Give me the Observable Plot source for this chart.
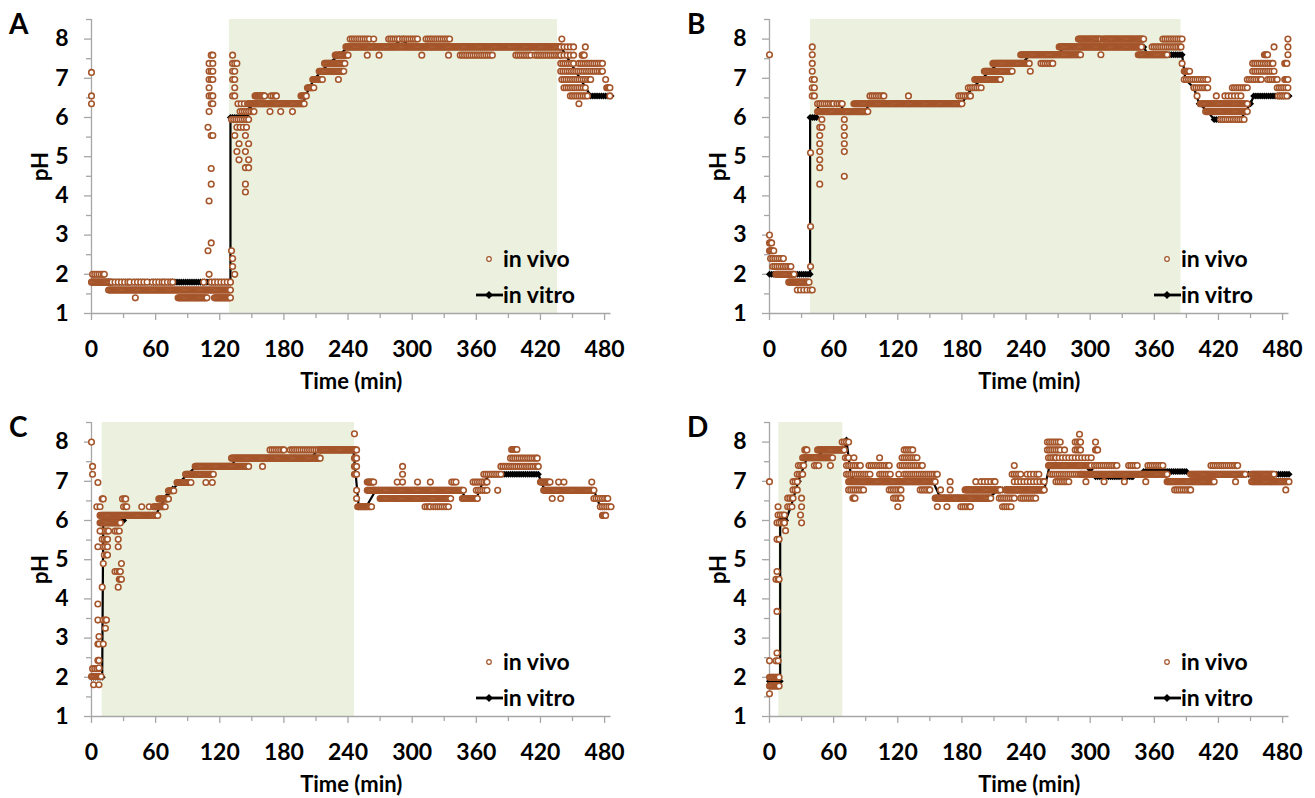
<!DOCTYPE html>
<html><head><meta charset="utf-8">
<script src="https://cdn.jsdelivr.net/npm/d3@7"></script>
<script src="https://cdn.jsdelivr.net/npm/@observablehq/plot@0.6"></script>
<style>
body{margin:0;background:#fff;}
#root{position:relative;width:1315px;height:798px;font-family:Lato,"Open Sans",sans-serif;font-weight:bold;}
.panel{position:absolute;width:637px;height:400px;}
.panel svg{position:absolute;left:0;top:0;overflow:visible;}
</style></head>
<body><div id="root"></div>
<script>
// ---------- DATA (time in min, pH) ----------
const xMajorTicks = [0,60,120,180,240,300,360,420,480];
const xMinorTicks = [30,90,150,210,270,330,390,450];
const yMajorTicks = [1,2,3,4,5,6,7,8];
const yMinorTicks = [1.5,2.5,3.5,4.5,5.5,6.5,7.5,8.5];
const panelLetters = ["A","B","C","D"];
const legendLabels = ["in vivo","in vitro"];
const xLabel = "Time (min)";
const yLabel = "pH";

// shaded intervals [start, end]
const shadeA = [129, 436];
const shadeB = [38.4, 385];
const shadeC = [10, 246];
const shadeD = [8.7, 68.6];

// in vivo: runs [t0, t1, pH, sampling step (min, default 1)]
const vivoRunsA = [
[0,0,7.15],[0,0,6.55],[0,0,6.35],
[1,12,2.0,2],[0,18,1.8],[16,130,1.6],
[19,36,1.8,3],[40,52,1.8,3],[57,68,1.8,3],[71,76,1.8,3],[105,105,1.8],[112,130,1.8,3],
[41,41,1.4],[81,108,1.4],[115,130,1.4],
[131,147,5.95,2],[139,152,6.15,2],[137,147,6.35,3],[136,145,5.75,3],
[148,199,6.35],[153,162,6.55],[168,173,6.55,2],[167,167,6.15],[177,177,6.15],[188,188,6.15],
[196,201,6.55],[202,208,6.76],[207,216,6.97],[213,236,7.18],[218,237,7.38],[228,240,7.59],[231,231,6.97],
[238,439,7.8],
[242,260,8.0,2],[264,264,8.0],[278,288,8.0,2],[291,305,8.0,2],[313,335,8.0,2],
[258,258,7.59],[269,269,7.59],[309,309,7.59],[334,334,7.59],[345,375,7.59,2],[397,411,7.59,2],[415,439,7.59,2],
[440,440,8.0],[439,451,7.8,3],[462,462,7.8],[439,451,7.59,3],[459,461,7.59],[439,451,7.38,2],[456,478,7.38,2],
[439,478,7.18,2],[440,467,6.97,2],[481,481,6.97],[442,462,6.76,2],[482,485,6.76],[448,464,6.55,2],[485,485,6.55],[456,456,6.35]
];
// in vivo: single columns [t, pH, pH, ...]
const vivoColsA = [
[109,5.75,2.6],[110,7.38,7.18,6.97,6.76,6.55,6.15,3.87,2.0],[112,7.59,7.18,6.97,6.55,6.35,5.54,4.7,4.3,2.8],
[113.5,7.59,7.38,7.18,6.97,6.55,6.35,5.54],
[131,2.6],[132,7.59,7.38,7.18,6.97,6.55,2.4,2.2],[134,7.38,7.18,6.97,6.76,6.55,5.54,2.0],[136,7.38,5.13],
[138,5.33,4.92],[144,5.54,5.13,4.72,4.3,4.1],[147,5.33,4.92,4.72]
];
// in vitro: runs [t0, t1, pH] (sampled every 2 min)
const vitroRunsA = [[0,130,1.8],[130,146,6.0],[148,148,6.2],[150,198,6.35],[200,200,6.55],[208,208,6.97],
[222,222,7.38],[232,232,7.6],[240,284,7.8],[288,292,8.0],[296,439,7.8],[467,486,6.55]];

const vivoRunsB = [
[0,0,7.6],[0,0,3.0],[0,2,2.8],[0,4,2.6],[1,13,2.4,2],[3,20,2.2,2],[6,23,2.0],[18,37,1.8],[26,40,1.6,3],
[45,92,6.15],[45,60,6.35,2],[63,68,6.35,2],[79,180,6.35],[94,107,6.55,2],[130,130,6.55],
[177,188,6.55,2],[186,198,6.76,2],[192,216,6.97],
[201,227,7.18],[209,243,7.38],[244,244,7.18],[235,291,7.6],[254,265,7.38,2],[271,348,7.8],[289,310,8.0],
[312,350,8.0],[310,310,7.6],[345,372,7.6],[358,385,7.8,2],[368,386,8.0,2],
[386,386,7.38],[388,393,7.18],[388,410,6.97,2],[397,410,6.76,2],[400,400,6.55],[403,447,6.35],[408,447,6.15],
[422,444,5.95,2],[418,418,6.55],[426,441,6.55,3],[433,447,6.76,2],[447,460,6.97,2],[466,475,6.97,2],
[452,471,7.38,2],[452,472,7.18,2],[463,466,7.6],[472,472,7.8],[475,485,6.76,2],[476,484,6.55,2],
[482,485,6.97],[482,484,7.38],[485,485,7.6],[485,485,7.8],[485,485,8.0]
];
const vivoColsB = [[38.4,2.2,3.22,5.1],[40,7.8,7.6,7.38,7.18,6.97,6.76,6.55],[42,6.97,6.76,6.55],
[47,5.75,5.54,5.33,5.13,4.92,4.72,4.3],[49,5.95,5.75],[70,5.95,5.75,5.54,5.33,5.13,4.5]];
const vitroRunsB = [[0,38,2.0],[38,44,6.0],[46,66,6.35],[70,90,6.15],[93,180,6.35],[184,184,6.55],[190,190,6.76],
[198,198,6.97],[206,206,7.18],[214,236,7.38],[244,270,7.6],[275,350,7.8],[354,386,7.6],[389,389,6.97],
[397,397,6.76],[402,402,6.35],[410,410,6.15],[416,441,5.95],[445,445,6.15],[450,450,6.35],[453,486,6.55]];

const vivoRunsC = [
[0,0,8.0],[1,1,7.38],[1,1,7.18],[6,6,6.97],[5,5,6.35],[8,8,6.35],[10,11,6.55],
[0,9,2.02],[1,7,2.22,2],[2,2,1.81],[7,7,1.81],
[8,62,6.13],[8,27,5.94],[9,16,5.73,2],[22,26,5.73,2],[10,15,5.52,2],[11,15,5.33,2],[12,15,5.12,2],[22,27,4.7,2],[26,28,4.5],
[29,32,6.55,2],[30,33,6.35,2],[47,47,6.35],[54,54,6.35],[58,69,6.35],[63,72,6.55],[72,77,6.76],[80,93,6.97],
[88,114,7.18],[97,147,7.38],[107,107,6.97],[113,113,6.97],
[131,214,7.59],[160,160,7.38],[167,180,7.8,2],[186,214,7.8,2],[214,245,7.8],
[246,248,7.8],[246,248,7.59],[246,248,7.38],[246,248,7.18],[246,246,8.21],[248,248,6.77],[248,248,6.56],
[249,262,6.35],[258,264,6.98],[258,264,6.77],[264,348,6.77],[270,336,6.56],[312,317,6.35,2],[320,334,6.35,2],
[286,286,6.98],[291,291,6.98],[305,305,6.98],[317,317,6.98],[337,341,6.98,2],[291,291,7.18],[291,291,7.38],
[347,361,6.56],[357,370,6.98,2],[360,370,6.77,2],[367,383,7.18,2],[380,380,6.77],[383,418,7.38,2],[392,417,7.59,2],[393,398,7.81],
[420,429,6.98],[423,470,6.77],[431,431,6.56],[439,439,6.56],[437,437,6.98],[442,442,6.98],[468,468,6.98],
[470,483,6.56,2],[476,486,6.35,2],[478,481,6.13]
];
const vivoColsC = [[6,5.33,3.87,3.46,2.85,2.43],[7,3.04,2.85,2.43,2.24],[8,5.73],[10,4.3],[11,4.9,3.46,2.85],
[13,3.46,3.25],[14,3.46],[25,5.52,5.33,4.3],[28,4.9]];
const vitroRunsC = [[0,10,2.0],[11,30,6.0],[33,60,6.13],[64,64,6.35],[70,70,6.6],[76,76,6.8],[82,82,6.97],[90,90,7.18],
[98,131,7.38],[135,205,7.59],[212,245,7.8],[250,257,6.35],[266,346,6.77],[350,360,6.56],[366,366,6.98],
[374,418,7.18],[424,470,6.77],[476,486,6.35]];

const vivoRunsD = [
[0,0,6.99],[0,9,2.0],[0,9,1.78],[0,0,1.58],[0,0,2.42],[6,6,2.42],
[6,9,4.5,2],[7,9,5.52,2],[7,14,5.94,2],[8,14,6.14,2],[8,8,6.35],
[17,21,6.35,2],[17,22,6.57,2],[15,15,5.74],[22,26,6.78,2],[22,26,6.99,2],[26,31,7.18,2],[30,30,6.57],[30,30,6.35],
[29,29,6.14],[30,30,5.94],[27,32,7.4,2],[31,59,7.6],[33,35,7.8],[42,46,7.4,2],[57,57,7.4],[45,70,7.8],[68,74,8.0,2],
[71,74,7.6,2],[72,85,7.4,2],[72,94,7.18,2],[74,155,6.99],[74,88,6.78,2],[78,80,6.57],[79,79,7.6],[93,112,7.4,2],
[103,113,7.18,2],[103,103,7.6],[112,123,6.78,2],[116,123,6.57,2],[120,120,6.35],[121,121,7.18],[122,143,7.4,2],
[124,138,7.6,2],[126,134,7.8,2],[126,157,7.18,2],[141,150,6.78,2],
[155,207,6.57],[157,157,6.35],[166,166,6.35],[179,188,6.35,2],[160,160,6.78],[169,169,6.78],[183,216,6.78],
[169,169,6.99],[193,193,6.99],
[198,211,6.99,3],[221,257,6.78],[229,257,6.99,3],[215,229,6.57,2],[235,249,6.57,2],[218,226,6.35,2],[227,235,7.18,2],
[241,252,7.18,3],[229,229,7.4],
[260,272,8.0,2],[260,272,7.8,2],[261,268,7.6,2],[261,301,7.4],[263,291,7.18,2],[290,290,8.2],[286,291,8.0,2],
[305,305,8.0],[276,276,7.8],[286,291,7.8,2],[305,307,7.8],[268,301,7.6,3],[268,280,6.99,2],[296,296,6.99],
[304,325,7.4,2],[336,344,7.4,2],[354,368,7.4,2],[291,372,7.18],[313,313,6.99],[332,332,6.99],[352,352,6.99],
[372,416,6.99],[379,394,6.78,2],[394,445,7.18],[413,438,7.4,2],[436,436,6.99],[451,472,7.18],[451,486,6.99],[483,483,6.78]
];
const vivoColsD = [[7,2.62,3.68,4.7],[8,2.42],[14,5.94]];
const vitroRunsD = [[0,10,1.9],[10,15,6.0],[20,20,6.35],[27,27,7.0],[35,45,7.6],[50,70,7.8],[72,72,8.05],[76,76,7.18],
[80,153,6.99],[160,205,6.57],[214,257,6.78],[262,292,7.4],[300,300,7.3],[305,340,7.12],[350,390,7.25],[400,486,7.18]];

// ---------- helpers ----------
function expandRuns(runs, defStep) {
  const out = [];
  for (const [t0, t1, p, s] of runs) {
    const st = s ?? defStep;
    let last = null;
    for (let t = t0; t <= t1 + 1e-9; t += st) { out.push({t, p}); last = t; }
    if (last === null || Math.abs(last - t1) > 1e-9) out.push({t: t1, p});
  }
  return out;
}
function expandCols(cols) {
  const out = [];
  for (const [t, ...ps] of cols) for (const p of ps) out.push({t, p});
  return out;
}

const panels = [
  {letter: panelLetters[0], shade: shadeA, vivo: expandRuns(vivoRunsA,1).concat(expandCols(vivoColsA)), vitro: expandRuns(vitroRunsA,2), left: 0, top: 0},
  {letter: panelLetters[1], shade: shadeB, vivo: expandRuns(vivoRunsB,1).concat(expandCols(vivoColsB)), vitro: expandRuns(vitroRunsB,2), left: 678, top: 0},
  {letter: panelLetters[2], shade: shadeC, vivo: expandRuns(vivoRunsC,1).concat(expandCols(vivoColsC)), vitro: expandRuns(vitroRunsC,2), left: 0, top: 403},
  {letter: panelLetters[3], shade: shadeD, vivo: expandRuns(vivoRunsD,1).concat(expandCols(vivoColsD)), vitro: expandRuns(vitroRunsD,2), left: 678, top: 403}
];

const W = 637, H = 400, ML = 91, MR = 26.5, MT = 19, MB = 87;
const AXIS = "#a6a6a6", VIVO = "#a5552a", SHADE = "#ebf1de";
const FONT = "Lato, 'Open Sans', sans-serif";
const hasAxis = typeof Plot.axisX === "function";
const root = document.getElementById("root");

for (const pnl of panels) {
  const div = document.createElement("div");
  div.className = "panel";
  div.style.left = pnl.left + "px";
  div.style.top = pnl.top + "px";
  root.appendChild(div);

  const marks = [
    Plot.rect([pnl.shade], {x1: d => d[0], x2: d => d[1], fill: SHADE}),
    Plot.ruleX([0], {stroke: AXIS, strokeWidth: 1.3}),
    Plot.ruleY([1], {stroke: AXIS, strokeWidth: 1.3})
  ];
  if (hasAxis) {
    marks.push(
      Plot.axisX({ticks: xMajorTicks, tickSize: 7, tickPadding: 20, tickFormat: d => String(d), stroke: AXIS, strokeWidth: 1.3, label: null, fontSize: 23}),
      Plot.axisX({ticks: xMinorTicks, tickSize: 5, tickPadding: 0, tickFormat: () => "", stroke: AXIS, strokeWidth: 1.3, label: null}),
      Plot.axisY({ticks: yMajorTicks, tickSize: 7, tickPadding: 16, tickFormat: d => String(d), stroke: AXIS, strokeWidth: 1.3, label: null, fontSize: 23}),
      Plot.axisY({ticks: yMinorTicks, tickSize: 5, tickPadding: 0, tickFormat: () => "", stroke: AXIS, strokeWidth: 1.3, label: null})
    );
  }
  marks.push(
    Plot.line(pnl.vitro, {x: "t", y: "p", stroke: "black", strokeWidth: 2.2}),
    Plot.dot(pnl.vitro, {x: "t", y: "p", symbol: "diamond2", r: 3.2, fill: "black", stroke: "none"}),
    Plot.dot(pnl.vivo, {x: "t", y: "p", r: 2.8, stroke: VIVO, fill: "white", strokeWidth: 1.55}),
    Plot.text([xLabel], {frameAnchor: "bottom", lineAnchor: "middle", dy: 68, text: d => d, fontSize: 22, fontWeight: "bold", fill: "black"}),
    Plot.text([yLabel], {frameAnchor: "left", textAnchor: "middle", lineAnchor: "middle", dx: -51, rotate: -90, text: d => d, fontSize: 22, fontWeight: "bold", fill: "black"})
  );

  const chart = Plot.plot({
    width: W, height: H,
    marginLeft: ML, marginRight: MR, marginTop: MT, marginBottom: MB,
    x: hasAxis ? {domain: [0, 486], axis: null}
               : {domain: [0, 486], ticks: xMajorTicks, tickSize: 7, tickPadding: 20, tickFormat: d => String(d), label: null},
    y: hasAxis ? {domain: [1, 8.5], axis: null}
               : {domain: [1, 8.5], ticks: yMajorTicks, tickSize: 7, tickPadding: 16, tickFormat: d => String(d), label: null},
    style: {fontFamily: FONT, fontSize: "23px", fontWeight: "bold", color: "black", background: "transparent", overflow: "visible"},
    marks
  });
  div.appendChild(chart);

  // panel letter and legend overlay
  const ov = d3.create("svg").attr("width", W).attr("height", H)
    .style("font-family", FONT).style("font-weight", "bold");
  ov.append("text").attr("x", 9).attr("y", 34).attr("font-size", 28).text(pnl.letter);
  const lx = 503;
  ov.append("circle").attr("cx", lx - 14).attr("cy", 259).attr("r", 2.3)
    .attr("fill", "white").attr("stroke", VIVO).attr("stroke-width", 1.2);
  ov.append("text").attr("x", lx).attr("y", 259).attr("dy", "0.35em").attr("font-size", 23).text(legendLabels[0]);
  ov.append("line").attr("x1", lx - 27).attr("x2", lx).attr("y1", 295).attr("y2", 295)
    .attr("stroke", "black").attr("stroke-width", 2.8);
  ov.append("path").attr("d", d3.symbol(d3.symbolDiamond2 || d3.symbolSquare, 40)())
    .attr("transform", `translate(${lx - 14},295)`).attr("fill", "black");
  ov.append("text").attr("x", lx).attr("y", 295).attr("dy", "0.35em").attr("font-size", 23).text(legendLabels[1]);
  div.appendChild(ov.node());
}
</script></body></html>
